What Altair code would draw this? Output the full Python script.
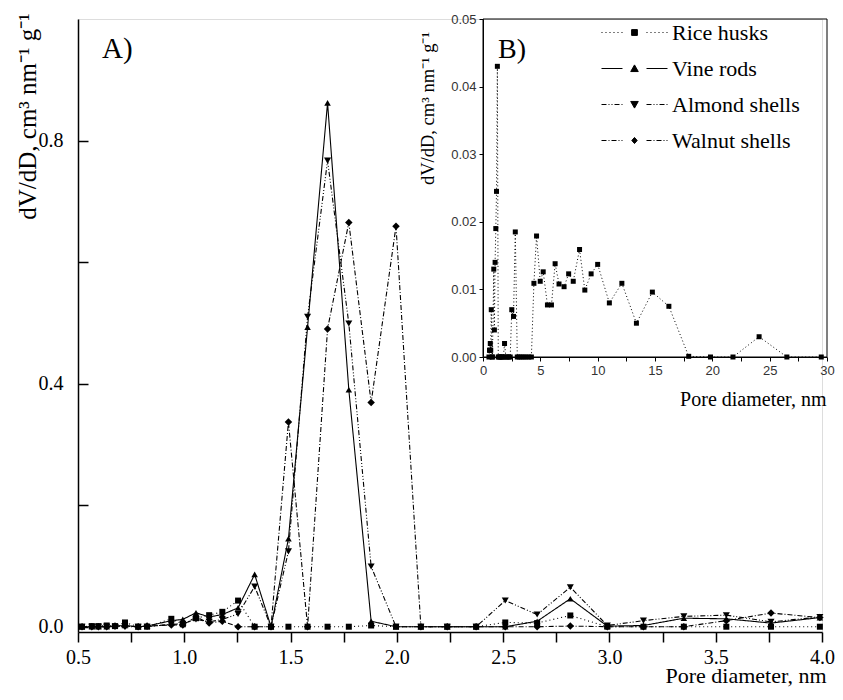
import altair as alt
import pandas as pd

# ---------------- data ----------------
series_names = ["Rice husks", "Vine rods", "Almond shells", "Walnut shells"]

pore_diameter = [0.519, 0.565, 0.596, 0.635, 0.674, 0.721, 0.783, 0.825, 0.939, 0.993,
                 1.055, 1.117, 1.179, 1.253, 1.331, 1.408, 1.490, 1.580, 1.674, 1.774,
                 1.879, 1.996, 2.113, 2.237, 2.373, 2.510, 2.660, 2.816, 2.990, 3.160,
                 3.350, 3.550, 3.760, 3.990]

rice_husks = [0, 0.001, 0.001, 0.002, 0.001, 0.007, 0, 0, 0.013, 0.004,
              0.014, 0.019, 0.0245, 0.043, 0, 0, 0, 0, 0, 0,
              0.002, 0, 0, 0, 0, 0.007, 0.006, 0.0185, 0, 0,
              0, 0, 0, 0]
vine_rods = [0, 0, 0, 0, 0.001, 0.002, 0, 0.001, 0.010, 0.012,
             0.023, 0.016, 0.020, 0.031, 0.086, 0, 0.145, 0.493, 0.862, 0.390,
             0.009, 0, 0, 0, 0, 0, 0.009, 0.046, 0.001, 0.002,
             0.014, 0.013, 0.006, 0.015]
almond_shells = [0, 0, 0, 0, 0, 0, 0, 0, 0.004, 0.005,
                 0.012, 0.008, 0.012, 0.021, 0.066, 0, 0.124, 0.510, 0.767, 0.499,
                 0.099, 0, 0, 0, 0, 0.043, 0.020, 0.065, 0.002, 0.010,
                 0.017, 0.019, 0.008, 0.016]
walnut_shells = [0, 0, 0, 0, 0.001, 0.001, 0, 0.001, 0.003, 0.003,
                 0.016, 0.006, 0.009, 0, 0, 0, 0.337, 0, 0.490, 0.665,
                 0.369, 0.659, 0, 0, 0, 0, 0, 0.001, 0, 0,
                 0, 0.010, 0.0225, 0.015]

# inset (B): rice husks continued beyond 4 nm
inset_extra_diameter = [4.22, 4.44, 4.67, 4.99, 5.25, 5.62, 5.97, 6.29, 6.63, 7.07,
                        7.47, 7.87, 8.42, 8.88, 9.43, 10.0, 11.02, 12.11, 13.38, 14.77,
                        16.21, 17.94, 19.84, 21.8, 24.08, 26.5, 29.5]
inset_extra_rice = [0, 0.0109, 0.0179, 0.0112, 0.0126, 0.0077, 0.0077, 0.0138, 0.0108, 0.0104,
                    0.0123, 0.0112, 0.0159, 0.0099, 0.0123, 0.0137, 0.0080, 0.0109, 0.0050, 0.0096,
                    0.0075, 0.0001, 0, 0, 0.0030, 0, 0]

main_x_domain = [0.5, 4.0]
main_y_domain = [-0.0087, 1.0]
inset_x_domain = [0, 30]
inset_y_domain = [0, 0.05]

main_x_ticks = [0.5, 0.75, 1.0, 1.25, 1.5, 1.75, 2.0, 2.25, 2.5, 2.75, 3.0, 3.25, 3.5, 3.75, 4.0]
main_y_ticks = [0.0, 0.2, 0.4, 0.6, 0.8]
inset_x_ticks = [0, 2.5, 5, 7.5, 10, 12.5, 15, 17.5, 20, 22.5, 25, 27.5, 30]
inset_y_ticks = [0.0, 0.01, 0.02, 0.03, 0.04, 0.05]

panel_labels = ["A)", "B)"]

# ---------------- styles / layout ----------------
SERIF = "Liberation Serif"
SANS = "Liberation Sans"
W, H = 744, 613
INSET_X_RANGE = [405, 749]
INSET_Y_RANGE = [338, 0]

main_shapes = ["square", "triangle-up", "triangle-down", "diamond"]
main_sizes = [36, 56, 56, 30]
dash_patterns = [[1, 3], [1, 0], [5, 2, 1, 2, 1, 2], [5, 2, 1, 2]]


def dashed(x0, x1, pattern, unit):
    if len(pattern) == 2 and pattern[1] == 0:
        return f"M{x0/unit:.3f},0H{x1/unit:.3f}"
    parts = []
    x = x0
    i = 0
    while x < x1 - 1e-9:
        seg = pattern[i % len(pattern)]
        if i % 2 == 0:
            end = min(x + seg, x1)
            parts.append(f"M{x/unit:.3f},0H{end/unit:.3f}")
        x += seg
        i += 1
    return "".join(parts)


UNIT = 18.0  # px per symbol path unit (symbol size 36^2)
marker_paths = [
    "M-0.16,-0.16H0.16V0.16H-0.16Z",
    "M-0.21,0.17L0,-0.2L0.21,0.17Z",
    "M-0.21,-0.17L0,0.2L0.21,-0.17Z",
    "M-0.15,0L0,-0.17L0.15,0L0,0.17Z",
]
legend_paths = [
    m + dashed(-33, -12, p, UNIT) + dashed(12, 33, p, UNIT)
    for m, p in zip(marker_paths, dash_patterns)
]

# ---------------- frames ----------------
main_df = pd.DataFrame({
    "d": pore_diameter * 4,
    "v": rice_husks + vine_rods + almond_shells + walnut_shells,
    "series": sum([[n] * len(pore_diameter) for n in series_names], []),
})
inset_df = pd.DataFrame({
    "d": pore_diameter + inset_extra_diameter,
    "v": rice_husks + inset_extra_rice,
})
frame_df = pd.DataFrame({"d": [inset_x_domain[0]], "d2": [inset_x_domain[1]],
                         "v": [inset_y_domain[0]], "v2": [inset_y_domain[1]]})
legend_df = pd.DataFrame({"series": series_names})

# ---------------- main panel ----------------
x_main = alt.X("d:Q",
               scale=alt.Scale(domain=main_x_domain, nice=False, zero=False),
               axis=alt.Axis(orient="bottom", values=main_x_ticks,
                             labelExpr="(round(datum.value*4) % 2 == 0) ? format(datum.value, '.1f') : ''",
                             labelFlush=False, labelOverlap=False, grid=False,
                             tickSize=10, tickWidth=1.5, tickColor="black",
                             domainWidth=1.5, domainColor="black",
                             labelFont=SERIF, labelFontSize=20, labelColor="black", labelPadding=5,
                             title="Pore diameter, nm", titleFont=SERIF, titleFontSize=22,
                             titleFontWeight="normal", titleColor="black",
                             titleX=748, titleY=50, titleAlign="right", titleBaseline="alphabetic"))
y_main = alt.Y("v:Q",
               scale=alt.Scale(domain=main_y_domain, nice=False, zero=False),
               axis=alt.Axis(orient="right", offset=-W, values=main_y_ticks,
                             labelExpr="(round(datum.value*10) % 4 == 0) ? format(datum.value, '.1f') : ''",
                             labelOverlap=False, grid=False,
                             tickSize=10, tickWidth=1.5, tickColor="black",
                             domainWidth=1.5, domainColor="black",
                             labelFont=SERIF, labelFontSize=20, labelColor="black",
                             labelAlign="right", labelBaseline="middle", labelPadding=-25,
                             title="dV/dD, cm³ nm⁻¹ g⁻¹", titleFont=SERIF, titleFontSize=25,
                             titleFontWeight="normal", titleColor="black", titleAngle=270,
                             titleX=-43, titleY=97, titleAlign="center", titleBaseline="alphabetic"))

main_lines = alt.Chart(main_df).mark_line(color="black", strokeWidth=1.1).encode(
    x=x_main, y=y_main,
    strokeDash=alt.StrokeDash("series:N", scale=alt.Scale(domain=series_names, range=dash_patterns), legend=None),
)
main_points = alt.Chart(main_df).mark_point(filled=True, color="black", opacity=1).encode(
    x=x_main, y=y_main,
    shape=alt.Shape("series:N", scale=alt.Scale(domain=series_names, range=main_shapes), legend=None),
    size=alt.Size("series:N", scale=alt.Scale(domain=series_names, range=main_sizes), legend=None),
)
main = alt.layer(main_lines, main_points)

# ---------------- inset panel ----------------
x_inset = alt.X("d:Q",
                scale=alt.Scale(domain=inset_x_domain, range=INSET_X_RANGE, nice=False, zero=False),
                axis=alt.Axis(orient="bottom", offset=-(H - INSET_Y_RANGE[0]), values=inset_x_ticks,
                              labelExpr="(datum.value % 5 == 0) ? format(datum.value, 'd') : ''",
                              labelFlush=False, labelOverlap=False, grid=False,
                              tickSize=4, tickColor="black", domainColor="black", domainWidth=1,
                              labelFont=SANS, labelFontSize=13, labelColor="#333", labelPadding=3,
                              title="Pore diameter, nm", titleFont=SERIF, titleFontSize=20,
                              titleFontWeight="normal", titleColor="black",
                              titleX=748, titleY=48, titleAlign="right", titleBaseline="alphabetic"))
y_inset = alt.Y("v:Q",
                scale=alt.Scale(domain=inset_y_domain, range=INSET_Y_RANGE, nice=False, zero=False),
                axis=alt.Axis(orient="left", offset=-INSET_X_RANGE[0], values=inset_y_ticks,
                              format=".2f", labelOverlap=False, grid=False,
                              tickSize=4, tickColor="black", domainColor="black", domainWidth=1,
                              labelFont=SANS, labelFontSize=13, labelColor="#333", labelPadding=3,
                              title="dV/dD, cm³ nm⁻¹ g⁻¹", titleFont=SERIF, titleFontSize=18.5,
                              titleFontWeight="normal", titleColor="black", titleAngle=270,
                              titleX=-50, titleY=89, titleAlign="center", titleBaseline="alphabetic"))

inset_frame = alt.Chart(frame_df).mark_rect(fill=None, stroke="black", strokeWidth=1).encode(
    x=x_inset, x2="d2:Q", y=y_inset, y2="v2:Q")
inset_line = alt.Chart(inset_df).mark_line(color="black", strokeWidth=1, strokeDash=[1, 2.5]).encode(
    x=x_inset, y=y_inset)
inset_points = alt.Chart(inset_df).mark_point(filled=True, color="black", opacity=1, shape="square", size=25).encode(
    x=x_inset, y=y_inset)
inset = alt.layer(inset_frame, inset_line, inset_points)

# ---------------- legend ----------------
legend_layer = alt.Chart(legend_df).mark_point(
    filled=True, fill="black", stroke="black", strokeWidth=1, opacity=1, size=1296
).encode(
    shape=alt.Shape("series:N",
                    scale=alt.Scale(domain=series_names, range=legend_paths),
                    legend=alt.Legend(orient="none", legendX=524, legendY=-5, title=None,
                                      symbolSize=1296, symbolStrokeWidth=1, symbolOpacity=1,
                                      symbolOffset=14,
                                      labelFont=SERIF, labelFontSize=22, labelColor="black",
                                      labelOffset=19, labelLimit=400, rowPadding=6, padding=0))
).transform_filter("false")

# ---------------- panel labels ----------------
text_a = alt.Chart(pd.DataFrame({"label": [panel_labels[0]]})).mark_text(
    font=SERIF, fontSize=29, align="left", baseline="alphabetic", color="black").encode(
    text="label:N", x=alt.value(24), y=alt.value(39))
text_b = alt.Chart(pd.DataFrame({"label": [panel_labels[1]]})).mark_text(
    font=SERIF, fontSize=28, align="left", baseline="alphabetic", color="black").encode(
    text="label:N", x=alt.value(420), y=alt.value(39))

chart = alt.layer(main, inset, legend_layer, text_a, text_b).resolve_scale(
    x="independent", y="independent", shape="independent"
).properties(
    width=W, height=H, autosize="none",
    padding={"left": 70, "top": 11, "right": 13, "bottom": 56},
).configure_view(stroke=None).configure(background="white")

chart.save("out.html", embed_options={"renderer": "svg", "actions": False})
